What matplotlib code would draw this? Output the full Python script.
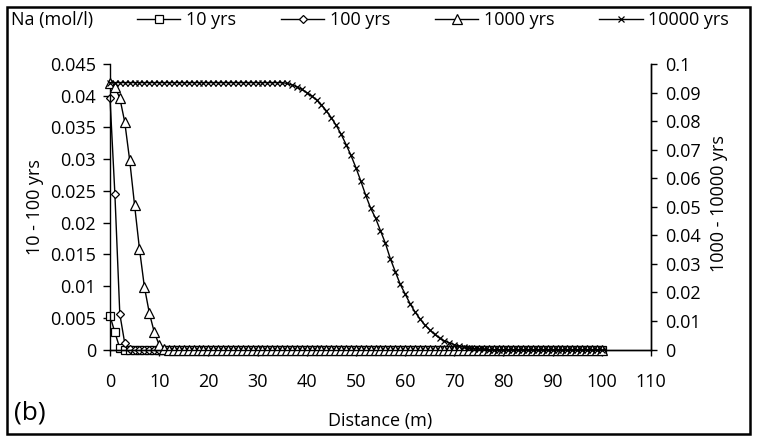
import numpy as np
import matplotlib.pyplot as plt
from matplotlib.patches import Rectangle

plt.rcParams['font.family'] = ['Open Sans', 'DejaVu Sans']

# distance grid (m), one node per metre
distance = np.arange(0, 101)

# Na concentration (mol/l) after each simulated time
na_10 = [0.0053, 0.0027, 0.0002] + [0.0] * 98
na_100 = [0.0397, 0.0245, 0.0056, 0.0010, 0.0001] + [0.0] * 96
na_1000 = [0.0935, 0.0919, 0.0881, 0.0797, 0.0664, 0.0506, 0.0352, 0.0219,
           0.0128, 0.0061, 0.0016, 0.0003] + [0.0] * 89
na_10000 = ([0.0935] * 36 +
            [0.0932, 0.0927, 0.0920, 0.0911, 0.0900, 0.0888, 0.0874, 0.0857,
             0.0836, 0.0812, 0.0785, 0.0754, 0.0718, 0.0680, 0.0637, 0.0590,
             0.0540, 0.0495, 0.0460, 0.0416, 0.0372, 0.0318, 0.0273, 0.0229,
             0.0195, 0.0161, 0.0132, 0.0108, 0.0086, 0.0069, 0.0053, 0.0040,
             0.0030, 0.0023, 0.0017, 0.0012, 0.0008, 0.0005, 0.0003, 0.0002,
             0.0001] + [0.0] * 24)

x_ticks = np.arange(0, 111, 10)
left_ticks = np.arange(0, 0.0451, 0.005)
right_ticks = np.arange(0, 0.1001, 0.01)

fs = 13

fig = plt.figure(figsize=(7.6, 4.37), dpi=100)
ax = fig.add_axes([0.1447, 0.2002, 0.7119, 0.6533])
ax2 = ax.twinx()

# markers sitting on the zero line are drawn whole, not cut by the axes
style = dict(color='black', lw=1.0, mfc='white', mec='black', mew=0.9,
             clip_on=False)
l1, = ax.plot(distance, na_10, marker='s', ms=5.5, label='10 yrs', **style)
l2, = ax.plot(distance, na_100, marker='D', ms=4.5, label='100 yrs', **style)
l3, = ax2.plot(distance, na_1000, marker='^', ms=6.5, label='1000 yrs', **style)
l4, = ax2.plot(distance, na_10000, marker='x', ms=5, label='10000 yrs', **style)

ax.set_xlim(0, 110)
ax.set_ylim(0, 0.045)
ax2.set_ylim(0, 0.1)
ax.set_xticks(x_ticks)
ax.set_yticks(left_ticks)
ax2.set_yticks(right_ticks)
ax.set_yticklabels(['0' if v == 0 else f'{v:.3f}'.rstrip('0') for v in left_ticks])
ax2.set_yticklabels(['0' if v == 0 else f'{v:.2f}'.rstrip('0') for v in right_ticks])

for a in (ax, ax2):
    a.spines['top'].set_visible(False)
    a.tick_params(direction='out', length=5, width=1, pad=5, labelsize=fs,
                  colors='black')
    for s in a.spines.values():
        s.set_linewidth(1)
ax.tick_params(axis='x', length=4, pad=13)
ax2.tick_params(axis='y', length=4, pad=6)
ax2.spines['left'].set_visible(False)

ax.set_xlabel('Distance (m)', fontsize=fs, labelpad=15)
ax.set_ylabel('10 - 100 yrs', fontsize=fs)
ax2.set_ylabel('1000 - 10000 yrs', fontsize=fs)
ax.yaxis.set_label_coords(-0.122, 0.5)
ax2.yaxis.set_label_coords(1.109, 0.51)

fig.legend(handles=[l1, l2, l3, l4], loc='center', ncol=4, frameon=False,
           bbox_to_anchor=(433 / 760, 1 - 20 / 437), fontsize=fs,
           handlelength=2.4, columnspacing=2.5, handletextpad=0.3)
fig.text(11 / 760, 1 - 20 / 437, 'Na (mol/l)', fontsize=fs, va='center')
fig.text(14 / 760, 1 - 413 / 437, '(b)', fontsize=19, va='center')

# outer frame around the whole figure
fig.patches.append(Rectangle((7 / 760, 3 / 437), 743 / 760, 427 / 437,
                             transform=fig.transFigure, fill=False,
                             edgecolor='black', lw=1.8))

fig.savefig('out.png', dpi=100)
